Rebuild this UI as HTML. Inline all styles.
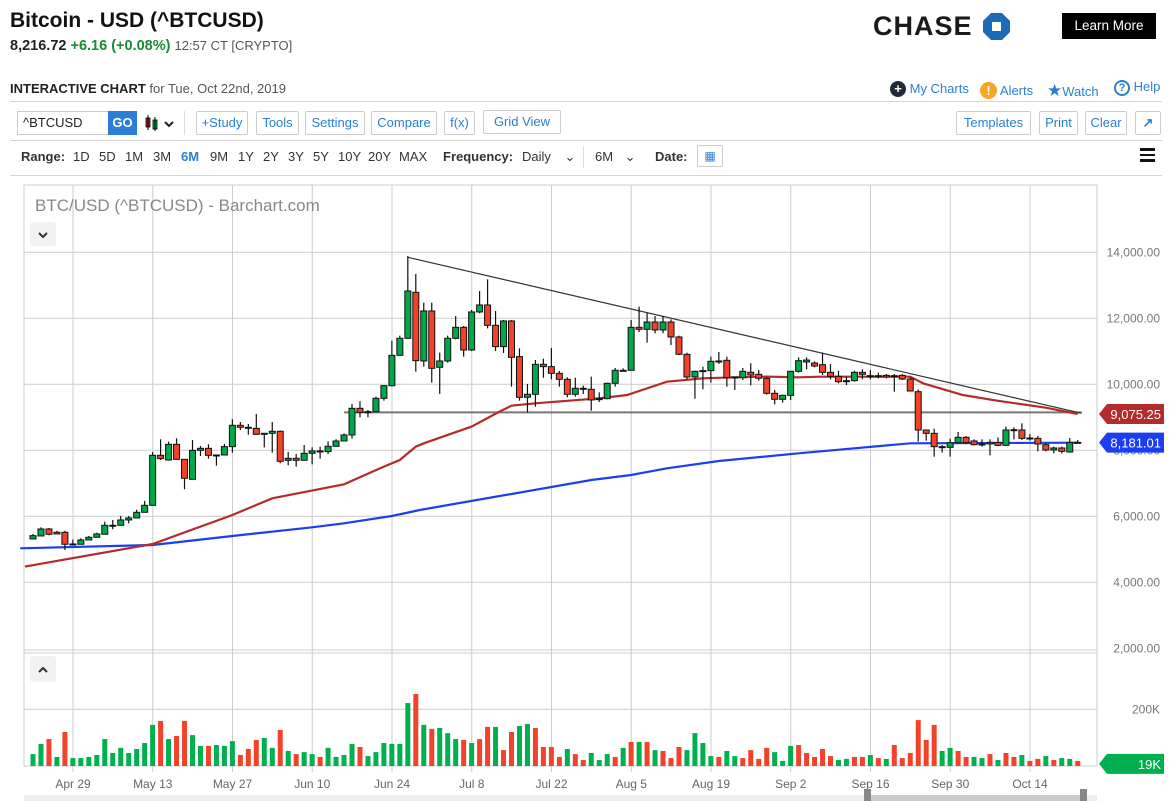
<!DOCTYPE html>
<html><head><meta charset="utf-8">
<style>
*{box-sizing:border-box;margin:0;padding:0}
body{width:1172px;height:801px;background:#fff;font-family:"Liberation Sans",sans-serif;position:relative;overflow:hidden;color:#222}
.abs{position:absolute;white-space:nowrap}
.btn{position:absolute;height:24px;border:1px solid #ccc;border-radius:2px;color:#2a7fd4;font-size:13px;line-height:22px;text-align:center;background:#fff}
.rng{position:absolute;top:149px;font-size:13px;color:#333}
.hl{position:absolute;left:10px;right:10px;height:1px;background:#d6d6d6}
</style></head><body>
<div class="abs" style="left:10px;top:9px;font-size:21px;font-weight:bold;color:#111">Bitcoin - USD (^BTCUSD)</div>
<div class="abs" style="left:10px;top:38px;font-size:14.5px"><b>8,216.72</b> <b style="color:#1b8a3a">+6.16 (+0.08%)</b> <span style="color:#555;font-size:13px">12:57 CT [CRYPTO]</span></div>
<div class="abs" style="left:873px;top:11px;font-size:27px;font-weight:bold;letter-spacing:1px;color:#1a1a1a">CHASE</div>
<svg class="abs" style="left:983px;top:13px" width="27" height="27" viewBox="0 0 27 27"><polygon points="8,0 19,0 27,8 27,19 19,27 8,27 0,19 0,8" fill="#1a6bb8"/><rect x="9" y="9" width="9" height="9" fill="#fff"/></svg>
<div class="abs" style="left:1062px;top:13px;width:94px;height:26px;background:#000;color:#fff;font-size:13.5px;line-height:26px;text-align:center">Learn More</div>
<div class="abs" style="left:10px;top:81px;font-size:13px;color:#555"><b style="color:#222">INTERACTIVE CHART</b> for Tue, Oct 22nd, 2019</div>
<div class="abs" style="left:890px;top:81px;font-size:13px;color:#2a7fd4"><span style="display:inline-block;width:16px;height:16px;border-radius:8px;background:#1f2a36;color:#fff;text-align:center;line-height:16px;font-weight:bold">+</span> My Charts</div>
<div class="abs" style="left:980px;top:82px;font-size:13px;color:#2a7fd4"><span style="display:inline-block;width:17px;height:17px;border-radius:9px;background:#f6a821;color:#fff;text-align:center;line-height:17px;font-weight:bold">!</span> Alerts</div>
<div class="abs" style="left:1047px;top:81px;font-size:13px;color:#2a7fd4"><span style="font-size:17px">★</span>Watch</div>
<div class="abs" style="left:1114px;top:79px;font-size:13px;color:#2a7fd4"><span style="display:inline-block;width:16px;height:16px;border:2px solid #2a7fd4;border-radius:9px;text-align:center;line-height:12px;font-size:11px;font-weight:bold">?</span> Help</div>
<div class="hl" style="top:101px"></div>
<div class="abs" style="left:17px;top:111px;width:92px;height:24px;border:1px solid #ccc;font-size:13px;line-height:22px;padding-left:5px">^BTCUSD</div>
<div class="abs" style="left:108px;top:111px;width:29px;height:24px;background:#2a7fd4;color:#fff;font-weight:bold;font-size:13px;line-height:24px;text-align:center">GO</div>
<svg class="abs" style="left:144px;top:115px" width="32" height="16"><rect x="2" y="3" width="4" height="9" fill="#b22" stroke="#000" stroke-width=".8"/><line x1="4" y1="0" x2="4" y2="15" stroke="#000"/><rect x="9" y="5" width="4" height="9" fill="#0a4" stroke="#000" stroke-width=".8"/><line x1="11" y1="2" x2="11" y2="16" stroke="#000"/><path d="M21 7 l4 4 l4 -4" stroke="#222" stroke-width="2" fill="none"/></svg>
<div class="abs" style="left:184px;top:111px;width:1px;height:24px;background:#ddd"></div>
<div class="btn" style="left:196px;top:111px;width:52px">+Study</div>
<div class="btn" style="left:256px;top:111px;width:43px">Tools</div>
<div class="btn" style="left:305px;top:111px;width:60px">Settings</div>
<div class="btn" style="left:371px;top:111px;width:66px">Compare</div>
<div class="btn" style="left:444px;top:111px;width:31px">f(x)</div>
<div class="btn" style="left:483px;top:110px;width:78px">Grid View</div>
<div class="btn" style="left:956px;top:111px;width:75px">Templates</div>
<div class="btn" style="left:1039px;top:111px;width:39px">Print</div>
<div class="btn" style="left:1085px;top:111px;width:42px">Clear</div>
<div class="btn" style="left:1135px;top:111px;width:26px;font-weight:bold">↗</div>
<div class="hl" style="top:140px"></div>
<div class="rng" style="left:21px;font-weight:bold">Range:</div>
<div class="rng" style="left:73px">1D</div>
<div class="rng" style="left:99px">5D</div>
<div class="rng" style="left:125px">1M</div>
<div class="rng" style="left:153px">3M</div>
<div class="rng" style="left:181px;color:#2a7fd4;font-weight:bold">6M</div>
<div class="rng" style="left:210px">9M</div>
<div class="rng" style="left:238px">1Y</div>
<div class="rng" style="left:263px">2Y</div>
<div class="rng" style="left:288px">3Y</div>
<div class="rng" style="left:313px">5Y</div>
<div class="rng" style="left:338px">10Y</div>
<div class="rng" style="left:368px">20Y</div>
<div class="rng" style="left:399px">MAX</div>
<div class="rng" style="left:443px;font-weight:bold">Frequency:</div>
<div class="rng" style="left:522px">Daily <span style="margin-left:10px">⌄</span></div>
<div class="abs" style="left:583px;top:146px;width:1px;height:22px;background:#ddd"></div>
<div class="rng" style="left:595px">6M <span style="margin-left:8px">⌄</span></div>
<div class="rng" style="left:655px;font-weight:bold">Date:</div>
<div class="abs" style="left:697px;top:145px;width:26px;height:22px;border:1px solid #ccc;border-radius:2px;font-size:12px;text-align:center;line-height:20px;color:#2a7fd4">▦</div>
<div class="abs" style="left:1140px;top:148px;width:15px">
<div style="height:2.5px;background:#111;margin-bottom:3px"></div><div style="height:2.5px;background:#111;margin-bottom:3px"></div><div style="height:2.5px;background:#111"></div></div>
<div class="hl" style="top:175px"></div>

<svg id="chart" class="abs" style="left:0;top:0" width="1172" height="801"></svg>

<script>
const categories=["Apr 29","May 13","May 27","Jun 10","Jun 24","Jul 8","Jul 22","Aug 5","Aug 19","Sep 2","Sep 16","Sep 30","Oct 14"];
const priceTicks=[14000,12000,10000,8000,6000,4000,2000];
const openV=[5313,5404,5616,5516,5516,5162,5152,5283,5364,5455,5728,5728,5889,5950,6121,6333,7848,7707,8182,7727,7121,7999,8060,7858,7858,8111,8757,8697,8666,8515,8515,8576,7697,7757,7697,7909,7980,7960,8121,8282,8464,9272,9171,9171,9575,9959,10878,11394,12788,10707,12222,10515,10707,11394,11727,11040,12192,12404,11787,11141,11919,10838,9606,9697,10606,10535,10333,10151,9697,9878,9848,9565,9565,10030,10424,10424,11727,11666,11888,11646,11888,11434,10909,10222,10414,10414,10707,10727,10222,10202,10363,10303,10182,9727,9545,9665,10393,10676,10645,10595,10362,10241,10110,10110,10362,10261,10261,10271,10261,10271,10160,9777,8615,8514,8110,8090,8231,8393,8282,8191,8191,8241,8150,8625,8615,8373,8362,8171,8009,8070,7949,8241];
const closeV=[5414,5616,5455,5465,5152,5162,5283,5364,5465,5728,5728,5889,5950,6121,6333,7848,7747,8182,7727,7152,7999,8060,7848,7858,8111,8757,8697,8687,8484,8515,8576,7667,7757,7697,7909,7980,7960,8121,8282,8464,9272,9151,9171,9575,9959,10878,11394,12828,10717,12222,10484,10707,11394,11727,11040,12192,12404,11787,11141,11919,10818,9606,9697,10606,10535,10333,10151,9697,9878,9878,9525,9565,10030,10424,10424,11727,11666,11888,11646,11888,11434,10909,10222,10394,10414,10697,10707,10202,10222,10394,10282,10182,9727,9545,9666,10393,10716,10736,10554,10362,10241,10080,10110,10362,10302,10261,10261,10221,10261,10160,9797,8615,8514,8110,8110,8231,8393,8231,8170,8191,8241,8150,8615,8625,8362,8373,8191,8009,8070,7969,8231,8241];
const highV=[5465,5666,5646,5560,5560,5300,5333,5404,5505,5838,5889,6010,6010,6200,6465,7949,8333,8262,8363,7700,8313,8131,8182,7858,8191,8939,8858,8798,9101,8515,8858,8600,7949,7889,8161,8091,8111,8272,8333,8515,9404,9485,9222,9626,9980,11323,11474,13888,13343,12474,12474,10959,11474,12070,11767,12252,12828,13181,12222,11949,11949,11090,10010,10737,10777,11100,10404,10212,10202,9959,10232,9757,10050,10495,10484,11949,12353,12171,12070,12070,11969,11474,10959,10414,10535,10838,10979,10838,10232,10494,10636,10434,10212,9828,9686,10393,10817,10817,10696,10958,10615,10413,10231,10413,10453,10433,10352,10312,10312,10312,10211,9847,8625,8655,8160,8352,8554,8433,8332,8332,8332,8393,8716,8696,8817,8493,8433,8211,8110,8110,8373,8312];
const lowV=[5313,5404,5424,5465,4980,5142,5152,5283,5364,5455,5606,5728,5788,5950,6121,6333,7707,7687,7727,6818,7121,7828,7747,7535,7888,7929,8615,8474,8474,8090,7929,7606,7545,7505,7696,7575,7747,7888,8232,8414,8353,9000,9000,9151,9505,9929,10918,12333,10383,10535,10050,9707,10656,11363,10838,11010,12151,11696,11010,10949,9929,9505,9151,9323,10201,10151,9929,9606,9626,9707,9201,9464,9545,9929,10414,10424,11585,11262,11545,11545,11191,10888,10151,9565,9848,10050,10616,9929,9828,10131,9969,10111,9687,9394,9444,9525,10353,10454,10514,10282,10150,10029,9978,10080,10150,10150,10181,10181,9777,10130,9797,8262,8292,7807,7929,7807,8211,8190,8150,8110,7848,8130,8130,8332,8312,8292,7969,7969,7908,7908,7929,8211];
const volV=[42,78,95,32,120,28,28,32,39,95,46,64,46,60,81,145,159,95,106,159,109,71,71,74,71,88,39,60,92,99,64,127,53,42,49,42,32,64,32,39,78,67,35,49,81,78,78,222,254,145,131,134,116,95,92,81,95,138,138,56,120,141,148,134,67,67,32,60,42,21,46,21,42,32,64,85,85,85,56,53,28,67,56,116,81,35,32,53,35,28,56,25,64,49,18,71,74,46,32,60,35,21,25,32,32,39,28,25,74,28,46,162,92,145,53,64,53,32,32,28,42,21,46,32,39,18,25,35,21,28,25,18];
const volDir="GGRGRGGGGGGGGGGGRGRRGGRGGGRRRGGRGRGGRGGGGRGGGGGGRGRGGGRGRRGRRGGRRRRGRRGGGRGRGRGRRRGGGGRGGRRRRGGGRRRRRGGRRGRGRRRRRRGGRRGGRGRRGRRGRGG";
const ma50Idx=[-1,15,25,30,39,44,46,48,49,55,58.5,60,63,71,74.5,79.5,84,88,92,96,98.7,110,111.6,116.6,120.9,127,131];
const ma50Val=[4475,5162,6040,6545,6970,7505,7707,8111,8212,8717,9172,9353,9424,9575,9676,10080,10182,10212,10232,10212,10231,10231,10029,9675,9504,9292,9100];
const ma200Idx=[-1.6,15,25,35,39,45,48.5,70,75,79.5,86,96,110,131];
const ma200Val=[5030,5131,5404,5666,5788,6010,6192,7101,7252,7455,7677,7909,8211,8231];
const trendIdx=[47,131.5];
const trendVal=[13850,9120];
const supportIdx=[39,131.5];
const supportVal=[9150,9150];

const svg=document.getElementById('chart');
const NS='http://www.w3.org/2000/svg';
const L=24,R=1097,TOP=185,PB=650,VB=766;
const xOf=i=>33+i*7.975;
const yP=p=>384.3-(p-10000)*0.033;
const yV=v=>VB-v*0.2835;
function mk(tag,attrs,parent){const e=document.createElementNS(NS,tag);for(const k in attrs)e.setAttribute(k,attrs[k]);(parent||svg).appendChild(e);return e;}
const g=mk('g',{});


mk('rect',{x:L,y:TOP,width:R-L,height:VB-TOP,fill:'none',stroke:'#ccc'},g);
categories.forEach((c,k)=>{const x=73+k*79.75;
 mk('line',{x1:x,y1:TOP,x2:x,y2:VB+6,stroke:'#ccc'},g);
 const t=mk('text',{x:x,y:788,'text-anchor':'middle','font-size':12,fill:'#666','font-family':'Liberation Sans'});
 t.textContent=c;
 
 });
priceTicks.forEach(p=>{const y=yP(p);
 if(p>2000)mk('line',{x1:L,y1:y,x2:R,y2:y,stroke:'#ccc'},g);
 const t=mk('text',{x:1160,y:y+4,'text-anchor':'end','font-size':12,fill:'#777','font-family':'Liberation Sans'});
 t.textContent=p.toLocaleString('en-US')+'.00';
 
 });
mk('line',{x1:L,y1:PB,x2:R,y2:PB,stroke:'#ccc'},g);
mk('line',{x1:L,y1:PB+3,x2:R,y2:PB+3,stroke:'#ccc'},g);
mk('line',{x1:L,y1:yV(200),x2:R,y2:yV(200),stroke:'#ccc'},g);
const vt=mk('text',{x:1160,y:yV(200)+4,'text-anchor':'end','font-size':12,fill:'#777','font-family':'Liberation Sans'});
vt.textContent='200K';


const tt=mk('text',{x:35,y:211,'font-size':17,fill:'#888','font-family':'Liberation Sans'});
tt.textContent='BTC/USD (^BTCUSD) - Barchart.com';


const b1=mk('g',{});


mk('rect',{x:30,y:222,width:26,height:24,rx:3,fill:'#f2f2f2'},b1);
mk('path',{d:'M39 233 l4 4 l4 -4',stroke:'#333','stroke-width':2,fill:'none'},b1);
const b2=mk('g',{});


mk('rect',{x:30,y:656,width:26,height:26,rx:3,fill:'#f2f2f2'},b2);
mk('path',{d:'M39 672 l4 -4 l4 4',stroke:'#333','stroke-width':2,fill:'none'},b2);
// volume bars
volV.forEach((v,i)=>{const r=mk('rect',{x:xOf(i)-2.5,y:yV(v),width:5,height:VB-yV(v),fill:volDir[i]==='G'?'#00b04f':'#f2432a'});
 
 });
// MAs
function poly(idx,val,color,name,w){const pts=idx.map((k,j)=>xOf(k).toFixed(1)+','+yP(val[j]).toFixed(1)).join(' ');
 const p=mk('polyline',{points:pts,fill:'none',stroke:color,'stroke-width':w});
 
 }
poly(supportIdx,supportVal,'#777','support-line',2);
poly(ma200Idx,ma200Val,'#1a3ef0','sma-200-line',2.2);
poly(ma50Idx,ma50Val,'#b52b2b','sma-50-line',2.2);
poly(trendIdx,trendVal,'#333','trend-line',1.2);
// candles
closeV.forEach((c,i)=>{const o=openV[i],x=xOf(i);const up=c>=o;
 const cg=mk('g',{});
 
 
 mk('line',{x1:x,y1:yP(highV[i]),x2:x,y2:yP(lowV[i]),stroke:'#111','stroke-width':1.2},cg);
 const t=Math.min(yP(o),yP(c)),h=Math.max(1,Math.abs(yP(o)-yP(c)));
 mk('rect',{x:x-3,y:t,width:6,height:h,fill:up?'#00a84a':'#f2432a',stroke:'#111','stroke-width':1},cg);});
// value labels
function tag(val,y,color,name,txt){const lg=mk('g',{});
 
 
 mk('polygon',{points:`1099,${y} 1107,${y-10} 1164,${y-10} 1164,${y+10} 1107,${y+10}`,fill:color},lg);
 const t=mk('text',{x:1161,y:y+5,'text-anchor':'end','font-size':13,fill:'#fff','font-family':'Liberation Sans'},lg);t.textContent=txt;}
tag(0,yP(ma50Val[ma50Val.length-1]),'#b52b2b','sma-50-value-label','9,075.25');
tag(0,yP(ma200Val[ma200Val.length-1]),'#1a3ef0','sma-200-value-label','8,181.01');
tag(0,yV(volV[volV.length-1])+3,'#00b04f','volume-value-label','19K');
// scrollbar
const sb=mk('g',{});


mk('rect',{x:24,y:795,width:1073,height:6,fill:'#eee'},sb);
mk('rect',{x:867,y:795,width:217,height:6,fill:'#ccc'},sb);
mk('rect',{x:864,y:789,width:7,height:12,fill:'#888'},sb);
mk('rect',{x:1080,y:789,width:7,height:12,fill:'#888'},sb);
</script>
</body></html>
